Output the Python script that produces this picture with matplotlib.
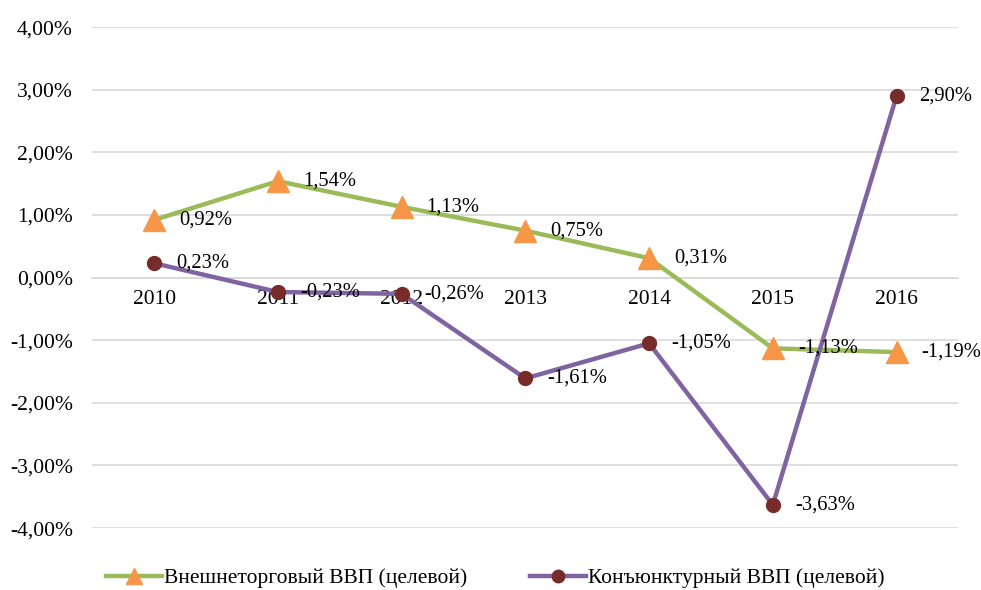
import matplotlib.pyplot as plt
import numpy as np

plt.rcParams['font.family'] = ['Liberation Serif', 'DejaVu Serif']

years = ['2010', '2011', '2012', '2013', '2014', '2015', '2016']
foreign_gdp = [0.92, 1.54, 1.13, 0.75, 0.31, -1.13, -1.19]
market_gdp = [0.23, -0.23, -0.26, -1.61, -1.05, -3.63, 2.90]
series_names = ['Внешнеторговый ВВП (целевой)', 'Конъюнктурный ВВП (целевой)']

FS = 15.5


def pct(v, decimals=2):
    return f'{v:.{decimals}f}%'.replace('.', ',')


fig = plt.figure(figsize=(9.81, 5.90), dpi=100)
ax = fig.add_axes([0.094, 0.105, 0.883, 0.849])

x = np.arange(len(years))
ax.plot(x, foreign_gdp, '-^', c='#9BBB59', lw=3.2, mfc='#F79646', mec='#F79646',
        markersize=16, label=series_names[0], zorder=3)
ax.plot(x, market_gdp, '-o', c='#8064A2', lw=3.2, mfc='#772C2A', mec='#772C2A',
        markersize=10, label=series_names[1], zorder=4)

# Data labels to the right of each point
for xi, v in zip(x, foreign_gdp):
    ax.annotate(pct(v), (xi, v), xytext=(18, 0), textcoords='offset points',
                ha='left', va='center', fontsize=14.8, zorder=5)
for xi, v in zip(x, market_gdp):
    ax.annotate(pct(v), (xi, v), xytext=(16, 0), textcoords='offset points',
                ha='left', va='center', fontsize=14.8, zorder=5)

ax.set_xlim(-0.5, len(years) - 0.5)
ax.set_ylim(-4, 4)
ax.set_yticks(np.arange(-4, 5))
ax.set_yticklabels([pct(t) for t in np.arange(-4, 5)], fontsize=FS)
ax.yaxis.grid(True, color='#D9D9D9', lw=1.2)
ax.set_axisbelow(True)
ax.tick_params(axis='y', length=0, pad=14)

# Category axis crosses at zero
ax.spines['bottom'].set_position(('data', 0))
ax.spines['bottom'].set_color('#D9D9D9')
ax.spines['bottom'].set_linewidth(1.2)
for s in ['top', 'right', 'left']:
    ax.spines[s].set_visible(False)
ax.set_xticks(x)
ax.set_xticklabels(years, fontsize=FS)
ax.tick_params(axis='x', length=0, pad=9)

leg = fig.legend(loc='lower center', bbox_to_anchor=(0.505, -0.03), ncol=2, frameon=False,
                 fontsize=FS, handlelength=2.6, handletextpad=0.1, columnspacing=2.9)
leg.legend_handles[0].set_markersize(11)
leg.legend_handles[1].set_markersize(9)

plt.savefig('out.png', dpi=100)
